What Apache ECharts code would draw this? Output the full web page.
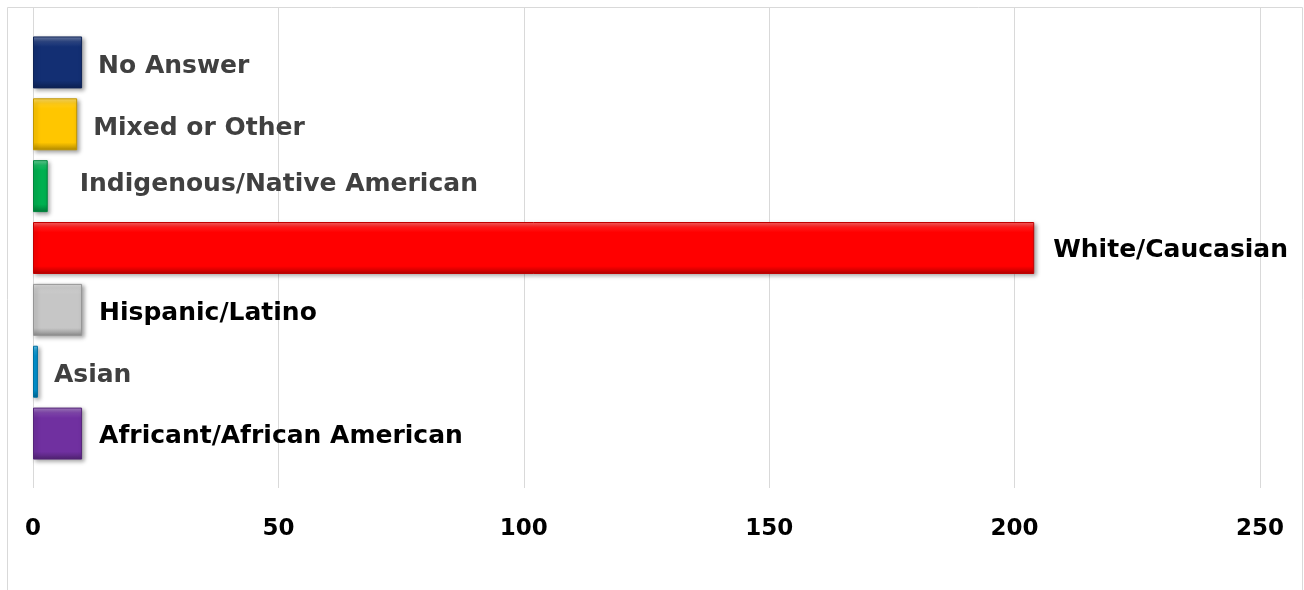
<!DOCTYPE html>
<html>
<head>
<meta charset="utf-8">
<script src="https://cdn.jsdelivr.net/npm/echarts@6/dist/echarts.min.js"></script>
<style>
html,body{margin:0;padding:0;background:#fff;}
#c{width:1304px;height:590px;}
</style>
</head>
<body>
<div id="c"></div>
<script>
const categories = ["No Answer","Mixed or Other","Indigenous/Native American","White/Caucasian","Hispanic/Latino","Asian","Africant/African American"];
const values = [10, 9, 3, 204, 10, 1, 10];
const barColors = ["#132F73","#FFC600","#00B050","#FF0000","#C6C6C6","#0095D4","#7030A0"];
const labelColors = ["#404040","#404040","#404040","#000000","#000000","#404040","#000000"];
const labelDistances = [16, 16, 32, 19, 17, 16, 17];
const labelShiftY = [4, 4, -2, 2, 4, 4, 3];
const xTicks = [0, 50, 100, 150, 200, 250];

function shade(hex, f){
  let n = parseInt(hex.slice(1),16);
  let r=(n>>16)&255,g=(n>>8)&255,b=n&255;
  const adj = c => f>=0 ? Math.round(c+(255-c)*f) : Math.round(c*(1+f));
  return 'rgb('+adj(r)+','+adj(g)+','+adj(b)+')';
}

const FONT = '"DejaVu Sans", sans-serif';

const data = values.map((v,i)=>({
  value: v,
  itemStyle: {
    color: {type:'linear',x:0,y:0,x2:0,y2:1,colorStops:[
      {offset:0,color:shade(barColors[i],0.4)},
      {offset:0.1,color:shade(barColors[i],0.1)},
      {offset:0.2,color:barColors[i]},
      {offset:0.85,color:barColors[i]},
      {offset:1,color:shade(barColors[i],-0.3)}
    ]},
    borderColor: shade(barColors[i],-0.25),
    borderWidth: 1,
    shadowColor:'rgba(0,0,0,0.35)',
    shadowBlur:4,
    shadowOffsetX:2,
    shadowOffsetY:2
  },
  label: {color: labelColors[i], distance: labelDistances[i], offset:[0, labelShiftY[i]]}
}));

const chart = echarts.init(document.getElementById('c'), null, {renderer:'canvas'});
chart.setOption({
  animation:false,
  backgroundColor:'#fff',
  graphic:[{type:'rect',shape:{x:7.5,y:7.5,width:1295,height:600},style:{fill:'none',stroke:'#d9d9d9',lineWidth:1},silent:true,z:-10}],
  grid:[
    {left:33,right:44,top:31.5,bottom:125.5,containLabel:false},
    {left:33,right:44,top:7,bottom:102,containLabel:false}
  ],
  xAxis:[
    {gridIndex:0,type:'value',min:0,max:250,interval:50,show:false,splitLine:{show:false}},
    {gridIndex:1,type:'value',min:0,max:250,interval:50,
     axisLine:{show:false},axisTick:{show:false},
     splitLine:{show:true,lineStyle:{color:'#d9d9d9',width:1}},
     axisLabel:{show:true,margin:30,color:'#000',fontWeight:'bold',fontSize:23,fontFamily:FONT,
       formatter:(v)=> xTicks.indexOf(v)>=0 ? String(v) : ''}}
  ],
  yAxis:[
    {gridIndex:0,type:'category',data:categories,inverse:true,
     axisLine:{show:false},axisTick:{show:false},axisLabel:{show:false},splitLine:{show:false}},
    {gridIndex:1,type:'value',show:false}
  ],
  series:[{
    type:'bar',
    xAxisIndex:0,yAxisIndex:0,
    data:data,
    barCategoryGap:'16%',
    label:{show:true,position:'right',formatter:'{b}',fontWeight:'bold',fontSize:25,fontFamily:FONT}
  }]
});
</script>
</body>
</html>
